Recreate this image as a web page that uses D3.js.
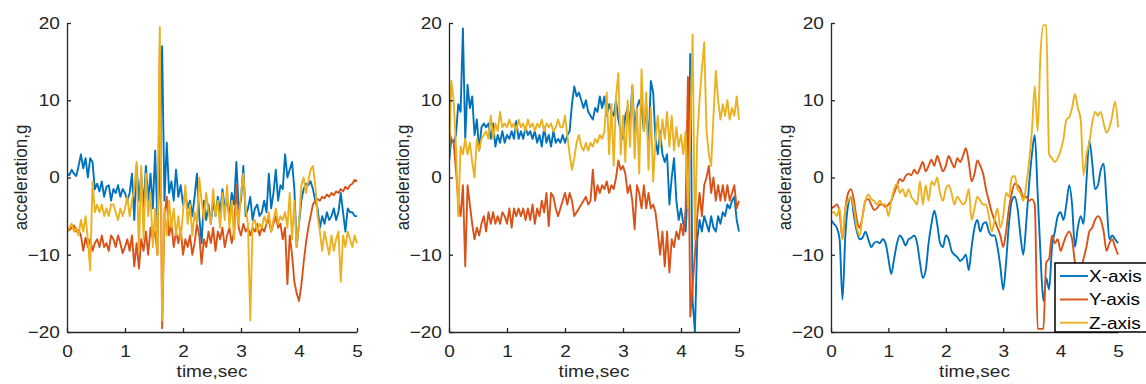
<!DOCTYPE html>
<html>
<head>
<meta charset="utf-8">
<script src="https://cdn.jsdelivr.net/npm/d3@7"></script>
<style>
  body { margin: 0; background: #fff; }
  svg { display: block; font-family: "Liberation Sans", Arial, sans-serif; }
</style>
</head>
<body>
<svg id="chart" width="1146" height="384"></svg>
<script>
// sampling steps (seconds)
const stepNoisy = 0.04;
const stepSmooth = 0.05;

const xTicks = [0, 1, 2, 3, 4, 5];
const yTicks = [-20, -10, 0, 10, 20];
const seriesNames = ['X-axis', 'Y-axis', 'Z-axis'];
const seriesColors = ['#0072BD', '#D95319', '#EDB120'];

// panel 1 (t = 0 .. 5, every 0.04 s)
const panel1X = [
  0.5, 0.3, 1.0, 0.5, 0.2, 1.5, 3.0, 1.2, 2.5, 0.0,
  2.5, 2.0, -1.5, -0.8, -1.8, -0.5, -2.5, -1.2, -1.0, -3.0,
  -1.5, -2.0, -1.0, -2.5, -1.5, -2.0, -3.0, -2.0, 0.5, -5.5,
  1.5, -3.0, 0.5, -4.0, 1.5, -3.0, 0.5, -4.0, 3.5, -6.0,
  1.0, 17.0, -3.0, 4.5, -2.0, -0.5, -3.0, 1.0, -2.5, -1.0,
  -3.5, -2.0, -4.0, -3.0, -5.0, -2.5, 0.5, -5.0, -8.5, -3.0,
  -5.5, -3.5, -6.0, -3.0, -5.0, -2.5, -4.5, -1.5, -4.0, -3.0,
  -5.0, -2.0, -3.5, 2.0, -4.0, -3.0, 1.5, -5.0, -4.0, -2.5,
  -5.5, -4.0, -3.5, -5.0, -4.5, -3.0, -4.5, 0.5, -4.0, -2.0,
  1.0, -3.0, -1.0, -1.5, 3.0, 0.0, 1.0, 2.0, -1.5, -9.0,
  -6.0, -3.0, -1.5, -0.8, -1.0, -0.5, -1.5, -3.0, -4.0, -6.5,
  -5.0, -6.0, -4.5, -5.5, -5.0, -4.0, -5.5, -4.5, -2.0, -4.5,
  -7.0, -4.0, -4.5, -4.5, -5.0, -5.0
];
const panel1Y = [
  -7.0, -6.8, -6.5, -6.2, -7.0, -6.8, -7.5, -9.5, -7.8, -9.0,
  -8.0, -9.5, -8.5, -8.0, -9.0, -7.5, -9.0, -8.5, -9.5, -7.5,
  -8.0, -9.0, -7.5, -8.5, -9.8, -9.0, -8.0, -9.5, -7.5, -11.5,
  -8.5, -11.8, -8.0, -9.5, -7.0, -10.0, -6.5, -8.0, -7.0, -10.0,
  17.0, -19.5, -5.0, -2.5, -7.5, -6.0, -9.0, -7.0, -8.5, -6.5,
  -10.0, -8.0, -9.0, -7.5, -10.0, -8.5, -6.0, -7.5, -11.2, -8.0,
  -9.0, -7.0, -8.5, -6.5, -9.5, -7.0, -8.0, -6.5, -9.0, -7.5,
  -6.5, -8.5, -7.0, -1.0, -6.5, -7.5, -6.0, -7.0, -6.5, -7.5,
  -6.5, -7.0, -6.0, -7.5, -6.5, -7.0, -6.0, -5.5, -7.0, -6.0,
  -5.0, -6.5, -6.0, -8.0, -6.5, -13.8, -7.5, -10.0, -13.5, -15.0,
  -16.0, -14.0, -11.0, -8.5, -6.5, -5.0, -3.5, -3.0, -2.8, -3.0,
  -2.5, -2.7, -2.2, -2.5, -2.0, -2.3, -1.8, -2.0, -1.5, -1.8,
  -1.2, -1.5, -1.0, -0.8, -0.3, -0.5
];
const panel1Z = [
  -7.0, -6.5, -6.0, -7.0, -6.5, -7.5, -5.5, -7.0, -5.0, -8.0,
  -12.0, -0.5, -4.5, -3.5, -4.5, -3.5, -5.0, -4.0, -5.0, -3.5,
  -3.5, -4.5, -5.5, -4.0, -5.0, -4.0, -2.5, -5.0, -3.0, -1.5,
  2.0, -9.5, 1.5, -8.0, 0.5, -5.0, -2.0, -9.0, -4.0, -10.0,
  19.5, -18.5, -4.0, -7.5, -3.0, -6.5, -4.0, -7.5, -5.0, -8.0,
  -4.5, -1.0, -6.0, -3.5, -7.5, -4.5, -6.0, 0.0, -3.0, -5.5,
  -2.0, -4.5, -6.0, -1.5, -5.0, -3.0, -6.5, -2.0, -5.5, -1.0,
  -6.5, -3.0, -8.0, -3.5, -6.0, -2.0, 0.5, -4.0, -6.0, -18.5,
  -6.0, -5.5, -7.0, -6.0, -6.5, -5.0, -6.0, -4.5, -7.0, -5.5,
  -4.0, -6.0, -5.0, -5.5, -4.5, -6.5, -2.0, -8.0, -3.0, -9.0,
  -6.0, -1.0, 0.0, -2.0, -0.5, 1.0, 1.5, -1.0, -5.0, -7.0,
  -9.5, -7.0, -8.5, -10.0, -7.5, -9.5, -8.0, -7.0, -13.5, -7.5,
  -9.0, -7.0, -8.0, -9.0, -7.5, -8.5
];

// panel 2 (t = 0 .. 5, every 0.04 s)
const panel2X = [
  2.0, 5.0, 4.5, 5.5, 9.5, 8.5, 19.3, 5.0, 12.0, 9.0,
  10.5, 5.5, 7.5, 3.5, 6.5, 7.0, 6.5, 7.0, 5.0, 7.0,
  4.0, 5.5, 4.5, 6.0, 4.5, 5.5, 5.0, 6.0, 5.0, 7.3,
  5.0, 6.0, 5.0, 6.5, 5.5, 6.0, 5.0, 6.0, 4.5, 5.5,
  4.0, 6.5, 4.5, 5.5, 4.0, 6.0, 4.5, 5.0, 4.5, 5.5,
  4.5, 5.5, 6.0, 9.5, 11.8, 10.5, 11.0, 10.0, 9.0, 10.0,
  8.5, 8.0, 7.5, 9.0, 8.5, 10.5, 9.0, 10.5, 8.0, 9.5,
  8.5, 8.0, 10.0, 7.5, 6.0, 5.0, 8.0, 9.0, 7.0, 11.8,
  6.0, 9.0, 10.0, 9.0, 6.0, 9.5, 4.0, 12.5, 11.0, 5.0,
  3.0, 6.0, 3.0, 2.0, 3.0, -3.5, 0.0, 2.5, -3.0, -5.5,
  -4.0, -6.0, -7.0, -1.0, 16.0, -16.0, -20.0, -8.0, -5.5, -7.0,
  -5.0, -6.0, -7.0, -5.0, -6.5, -7.0, -5.0, -6.0, -4.5, -5.0,
  -3.5, -4.0, -3.0, -2.5, -5.5, -7.0
];
const panel2Y = [
  6.0, 5.0, 4.5, 1.0, -3.0, -5.0, -1.0, -11.5, -1.0, -3.5,
  -6.0, -8.0, -6.5, -7.5, -6.0, -5.0, -7.0, -4.5, -6.0, -4.5,
  -6.0, -5.0, -6.0, -4.5, -5.0, -6.0, -4.0, -6.5, -4.0, -5.0,
  -4.0, -5.0, -4.0, -5.5, -4.0, -5.5, -3.5, -6.0, -4.0, -5.0,
  -3.0, -4.5, -2.0, -6.3, -2.0, -2.5, -4.0, -5.0, -4.0, -3.0,
  -2.0, -3.5, -2.0, -3.0, -5.0, -4.5, -4.0, -3.5, -3.0, -2.5,
  -3.5, -3.0, 1.0, -3.0, -1.0, -2.0, -1.0, -1.5, -0.5, -2.0,
  -1.0, -1.5, 0.0, 2.2, 1.0, 1.5, 0.5, -2.0, -1.0, -3.0,
  -6.7, -1.0, -2.0, -4.0, -1.0, -4.0, -2.0, -4.0, -3.5, -4.5,
  -7.0, -10.0, -7.0, -11.5, -7.0, -12.3, -8.0, -9.0, -7.0, -8.0,
  -6.0, -7.5, -4.0, 13.0, -18.0, -14.0, -10.0, -5.0, -2.0, -5.0,
  -1.0, 0.0, 1.5, -2.0, 0.0, -3.0, -1.0, -3.0, -1.0, -3.0,
  -1.0, -3.0, -2.0, -1.0, -4.0, -3.0
];
const panel2Z = [
  2.0, 12.5, 10.0, 4.0, -5.0, 4.0, 3.0, 5.0, 3.0, 4.5,
  2.0, 0.0, 5.0, 3.5, 5.0, 5.5, 6.0, 5.0, 8.0, 5.0,
  7.0, 6.0, 8.5, 6.5, 7.0, 6.5, 7.5, 6.5, 7.0, 6.0,
  7.5, 6.5, 7.0, 6.0, 7.5, 6.5, 7.0, 6.0, 7.0, 6.5,
  7.5, 6.0, 7.0, 6.5, 7.0, 6.0, 6.5, 7.5, 6.5, 6.5,
  8.0, 5.5, 3.0, 1.0, 2.5, 4.5, 5.5, 4.0, 3.5, 4.5,
  3.5, 4.5, 4.0, 5.0, 4.5, 5.5, 5.0, 6.0, 11.0, 3.0,
  9.5, 1.5, 10.5, 13.5, 3.0, 8.0, 2.0, 10.0, 4.0, 12.0,
  2.5, 9.0, 0.5, 14.0, 6.0, 11.0, 1.0, 9.0, -0.5, 5.0,
  8.0, 4.0, 7.5, 5.0, 8.5, 4.0, 8.0, 3.5, 6.5, 4.0,
  5.5, 3.0, 6.0, -4.0, 6.0, 18.5, -8.0, 5.0, 10.0, 14.0,
  17.5, 6.0, 3.0, 1.5, 8.0, 13.8, 10.0, 7.5, 9.5, 8.0,
  10.0, 7.5, 9.0, 8.0, 10.5, 7.5
];

// panel 3 (t = 0 .. 5, every 0.05 s)
const panel3X = [
  -5.5, -6.0, -6.5, -8.0, -15.8, -7.5, -3.5, -2.5, -5.0, -7.0,
  -8.0, -7.8, -7.0, -8.0, -9.0, -8.5, -8.3, -8.5, -8.0, -8.5,
  -10.5, -12.5, -10.5, -8.5, -7.5, -8.0, -8.8, -8.0, -7.8, -7.5,
  -8.5, -11.0, -13.0, -12.0, -8.5, -6.0, -4.3, -6.0, -8.5, -9.0,
  -7.5, -8.0, -9.5, -10.0, -10.3, -10.8, -10.5, -10.0, -12.0, -9.0,
  -6.5, -5.5, -7.0, -6.0, -5.8, -7.0, -7.5, -7.5, -9.0, -11.5,
  -14.5, -11.0, -6.0, -3.0, -2.5, -4.0, -7.5, -10.0, -6.0, -1.0,
  3.0, 5.5, -2.0, -10.0, -16.0, -13.0, -14.5, -9.0, -7.0, -5.0,
  -4.5, -5.5, -3.5, -1.0, -3.5, -9.0, -6.5, -5.0, -6.0, -0.5,
  4.8, 2.0, -1.5, -1.0, 1.0, 1.8, -3.0, -8.0, -7.5, -8.0,
  -8.5
];
const panel3Y = [
  -4.0, -3.8, -3.5, -4.5, -8.0, -4.0, -2.0, -1.5, -3.0, -5.5,
  -6.5, -5.0, -3.0, -2.8, -3.5, -4.2, -4.0, -3.5, -3.5, -3.8,
  -3.5, -3.0, -2.0, -1.0, -0.2, -0.5, 0.2, 0.5, 0.3, 1.0,
  0.5, 1.2, 2.0, 0.8, 1.5, 2.3, 1.5, 2.8, 1.8, 0.8,
  1.5, 2.8, 2.0, 1.3, 2.5, 2.0, 2.8, 3.8, 2.0, -0.5,
  0.5, 2.2, 1.5, 0.5, -1.5, -3.0, -4.5, -5.5, -6.5, -7.5,
  -9.0, -7.0, -4.0, -2.0, -0.8, -1.0, -1.5, -2.5, -2.5, -3.0,
  -2.8, -3.5, -19.6, -19.6, -19.6, -11.0, -10.5, -7.5, -8.5, -8.0,
  -9.5, -8.5, -7.5, -7.0, -8.0, -11.0, -13.0, -12.0, -10.5, -9.0,
  -7.0, -6.5, -5.5, -5.0, -5.5, -7.0, -9.5, -8.5, -8.0, -9.0,
  -10.0
];
const panel3Z = [
  -4.5, -4.5, -5.0, -4.0, -8.0, -4.0, -3.0, -2.5, -4.0, -6.5,
  -7.5, -5.0, -3.0, -2.2, -2.8, -3.0, -3.5, -3.0, -3.5, -3.5,
  -5.0, -3.0, -1.5, -0.8, -2.0, -1.5, -2.5, -1.5, -2.5, -3.0,
  -3.5, -0.5, -3.5, -1.0, -3.0, -0.5, -1.0, 0.0, -2.0, -3.0,
  -1.5, -1.0, -2.0, -3.5, -2.5, -3.0, -3.5, -3.0, -1.5, -5.5,
  -4.0, -2.5, -3.0, -3.5, -3.5, -5.0, -7.0, -5.5, -4.0, -6.5,
  -5.0, -2.0, -2.5, 0.0, 0.2, -1.5, -2.0, -3.0, -1.0, 2.0,
  6.0, 11.8, 6.0, 16.0, 19.7, 19.7, 3.0, 2.5, 2.0, 2.5,
  3.5, 5.0, 7.5, 7.8, 9.0, 10.8, 9.0, 7.5, 0.3, 3.0,
  4.5, 7.0, 8.5, 8.0, 8.5, 7.0, 5.8, 6.5, 8.0, 9.8,
  6.5
];

const panels = [
  { left: 67, width: 290, step: stepNoisy, series: [panel1X, panel1Y, panel1Z], curve: d3.curveLinear },
  { left: 449, width: 290, step: stepNoisy, series: [panel2X, panel2Y, panel2Z], curve: d3.curveLinear },
  { left: 831, width: 287, step: stepSmooth, series: [panel3X, panel3Y, panel3Z], curve: d3.curveMonotoneX },
];

const plotTop = 23;
const plotBottom = 332;
const fontSize = 17;
const textScale = 1.12;   // the picture is a little wider than tall
const axisColor = '#262626';
const lineWidth = 1.9;

const svg = d3.select('#chart');

panels.forEach((p, i) => {
  const x = d3.scaleLinear().domain([0, 5]).range([p.left, p.left + p.width]);
  const y = d3.scaleLinear().domain([-20, 20]).range([plotBottom, plotTop]);
  const g = svg.append('g').attr('class', 'panel-' + i);

  g.append('clipPath').attr('id', 'clip' + i)
    .append('rect')
    .attr('x', p.left)
    .attr('y', plotTop - 1)
    .attr('width', p.width + 1)
    .attr('height', plotBottom - plotTop + 2);

  const line = d3.line()
    .x((d, j) => x(j * p.step))
    .y((d) => y(d))
    .curve(p.curve);

  p.series.forEach((vals, k) => {
    g.append('path')
      .datum(vals)
      .attr('clip-path', `url(#clip${i})`)
      .attr('fill', 'none')
      .attr('stroke', seriesColors[k])
      .attr('stroke-width', lineWidth)
      .attr('stroke-linejoin', 'round')
      .attr('d', line);
  });

  // axes, ticks pointing inward like MATLAB
  const xAxis = d3.axisBottom(x).tickValues(xTicks).tickFormat(d3.format('d'))
    .tickSizeInner(-4).tickSizeOuter(0).tickPadding(13);
  const yAxis = d3.axisLeft(y).tickValues(yTicks).tickFormat(d3.format('d'))
    .tickSizeInner(-4).tickSizeOuter(0).tickPadding(6.3);

  const gx = g.append('g').attr('transform', `translate(0,${plotBottom})`).call(xAxis);
  const gy = g.append('g').attr('transform', `translate(${p.left},0)`).call(yAxis);

  [gx, gy].forEach((a) => {
    a.attr('font-size', fontSize).attr('font-family', null);
    a.select('.domain').attr('stroke', axisColor).attr('stroke-width', 1.3);
    a.selectAll('.tick line').attr('stroke', axisColor).attr('stroke-width', 1.3);
    a.selectAll('.tick text').attr('fill', axisColor).attr('transform', `scale(${textScale},1)`);
  });

  // axis titles
  g.append('text')
    .attr('transform', `translate(${p.left + p.width / 2},377) scale(${textScale},1)`)
    .attr('text-anchor', 'middle')
    .attr('font-size', fontSize)
    .attr('fill', axisColor)
    .text('time,sec');

  g.append('text')
    .attr('transform', `translate(${p.left - 40},${(plotTop + plotBottom) / 2}) scale(${textScale},1) rotate(-90)`)
    .attr('text-anchor', 'middle')
    .attr('font-size', fontSize)
    .attr('fill', axisColor)
    .text('acceleration,g');
});

// legend in the third panel, running off the right edge
const legend = svg.append('g').attr('class', 'legend');
legend.append('rect')
  .attr('x', 1055)
  .attr('y', 263)
  .attr('width', 130)
  .attr('height', plotBottom - 263)
  .attr('fill', '#fff')
  .attr('stroke', '#000')
  .attr('stroke-width', 1.5);

const legendRows = [276, 299.5, 322.7];
seriesNames.forEach((name, k) => {
  legend.append('line')
    .attr('x1', 1060).attr('x2', 1088)
    .attr('y1', legendRows[k]).attr('y2', legendRows[k])
    .attr('stroke', seriesColors[k])
    .attr('stroke-width', lineWidth);
  legend.append('text')
    .attr('transform', `translate(1089,${legendRows[k]}) scale(${textScale},1)`)
    .attr('dy', '0.35em')
    .attr('font-size', fontSize)
    .attr('fill', '#000')
    .text(name);
});
</script>
</body>
</html>
